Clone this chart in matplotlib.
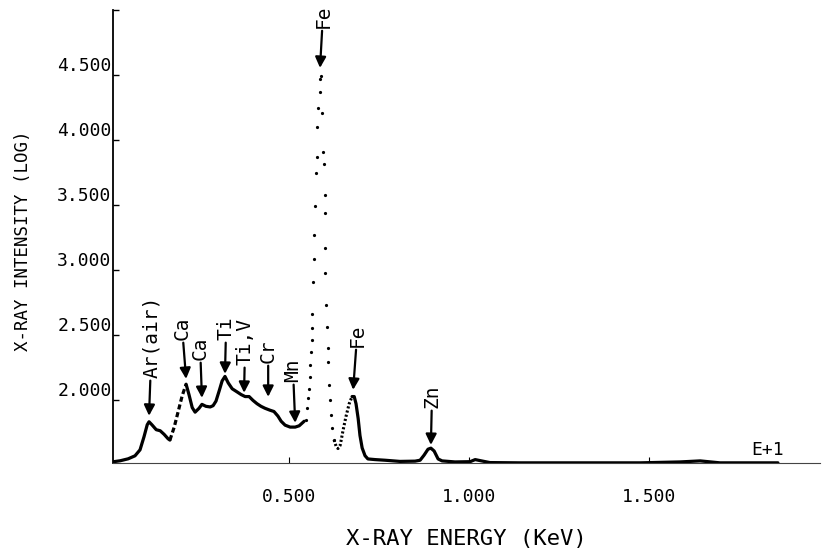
import matplotlib.pyplot as plt

# spectrum (energy in KeV E+1, log intensity)
left_x = [0.011, 0.031, 0.053, 0.072, 0.086, 0.097, 0.106, 0.111, 0.119, 0.131, 0.142, 0.153, 0.164, 0.169]
left_y = [1.523, 1.531, 1.546, 1.569, 1.615, 1.715, 1.808, 1.831, 1.808, 1.770, 1.762, 1.734, 1.700, 1.690]

ca_rise_x = [0.169, 0.181, 0.192, 0.203, 0.214]
ca_rise_y = [1.690, 1.790, 1.910, 2.030, 2.120]

mid_x = [0.214, 0.222, 0.231, 0.239, 0.250, 0.258, 0.269, 0.281, 0.289, 0.297, 0.306, 0.314, 0.322,
         0.331, 0.342, 0.356, 0.367, 0.378, 0.389, 0.400, 0.411, 0.422, 0.433, 0.447, 0.458, 0.469,
         0.478, 0.489, 0.503, 0.517, 0.528, 0.536, 0.542]
mid_y = [2.120, 2.040, 1.940, 1.905, 1.935, 1.965, 1.950, 1.945, 1.955, 1.990, 2.070, 2.145, 2.180,
         2.130, 2.085, 2.060, 2.040, 2.025, 2.025, 1.995, 1.970, 1.950, 1.935, 1.920, 1.910, 1.875,
         1.835, 1.805, 1.790, 1.790, 1.800, 1.820, 1.835]

# main Fe peak is only drawn as separate dots
fe_x = [0.547, 0.550, 0.553, 0.556, 0.558, 0.558, 0.561, 0.564, 0.564, 0.564, 0.567, 0.569, 0.569,
        0.572, 0.575, 0.578, 0.578, 0.581, 0.586, 0.586, 0.589, 0.592, 0.594, 0.597, 0.600, 0.600,
        0.600, 0.600, 0.603, 0.606, 0.608, 0.608, 0.611, 0.614, 0.617, 0.619, 0.625]
fe_y = [1.846, 1.938, 2.015, 2.085, 2.177, 2.269, 2.369, 2.462, 2.554, 2.662, 2.908, 3.085, 3.269,
        3.492, 3.746, 3.869, 4.100, 4.246, 4.369, 4.469, 4.490, 4.208, 3.908, 3.815, 3.577, 3.438,
        3.169, 2.977, 2.731, 2.562, 2.400, 2.292, 2.115, 2.000, 1.885, 1.785, 1.692]

fe2_rise_x = [0.625, 0.631, 0.636, 0.642, 0.650, 0.658, 0.667, 0.675]
fe2_rise_y = [1.692, 1.640, 1.625, 1.650, 1.765, 1.870, 1.970, 2.025]

tail_x = [0.675, 0.681, 0.686, 0.692, 0.697, 0.703, 0.711, 0.719, 0.739, 0.767, 0.808, 0.850, 0.864,
          0.875, 0.886, 0.894, 0.903, 0.914, 0.925, 0.961, 1.003, 1.017, 1.031, 1.058, 1.142, 1.253,
          1.364, 1.475, 1.586, 1.642, 1.664, 1.697, 1.858]
tail_y = [2.025, 2.025, 1.970, 1.855, 1.725, 1.630, 1.570, 1.545, 1.540, 1.535, 1.526, 1.528, 1.535,
          1.574, 1.620, 1.628, 1.606, 1.545, 1.530, 1.522, 1.524, 1.540, 1.532, 1.517, 1.515, 1.515,
          1.515, 1.515, 1.522, 1.530, 1.524, 1.515, 1.515]

peak_labels = ['Ar(air)', 'Ca', 'Ca', 'Ti', 'Ti,V', 'Cr', 'Mn', 'Fe', 'Fe', 'Zn']
tip_x = [0.111, 0.214, 0.258, 0.322, 0.375, 0.442, 0.517, 0.678, 0.586, 0.894]
tip_y = [1.877, 2.161, 2.015, 2.200, 2.054, 2.023, 1.823, 2.077, 4.554, 1.653]
label_x = [0.119, 0.203, 0.253, 0.325, 0.378, 0.442, 0.511, 0.689, 0.594, 0.897]
label_y = [2.169, 2.461, 2.307, 2.461, 2.269, 2.284, 2.138, 2.407, 4.861, 1.938]

y_ticks = [2.0, 2.5, 3.0, 3.5, 4.0, 4.5, 5.0]
x_ticks = [0.5, 1.0, 1.5]

mono = 'DejaVu Sans Mono'

fig = plt.figure(figsize=(8.25, 5.51), dpi=100)
ax = fig.add_axes([0.137, 0.160, 0.857, 0.822])

ax.plot(left_x, left_y, color='black', lw=2.3, solid_capstyle='round')
ax.plot(ca_rise_x, ca_rise_y, color='black', lw=2.3, ls=(0, (1.6, 0.9)))
ax.plot(mid_x, mid_y, color='black', lw=2.3, solid_capstyle='round')
ax.plot(fe_x, fe_y, 'o', color='black', ms=2.3, mew=0)
ax.plot(fe2_rise_x, fe2_rise_y, color='black', lw=2.2, ls=(0, (0.7, 0.7)))
ax.plot(tail_x, tail_y, color='black', lw=2.3, solid_capstyle='round')

for lab, tx, ty, lx, ly in zip(peak_labels, tip_x, tip_y, label_x, label_y):
    ax.annotate(lab, xy=(tx, ty), xytext=(lx, ly), rotation=90, ha='center', va='bottom',
                fontsize=14, family=mono,
                arrowprops=dict(arrowstyle='-|>', color='black', lw=1.6,
                                mutation_scale=16, shrinkA=0, shrinkB=0))

ax.text(1.83, 1.61, 'E+1', fontsize=13, family=mono, ha='center', va='center')

ax.set_xlim(0.011, 1.975)
ax.set_ylim(1.515, 5.0)
ax.set_xticks(x_ticks)
ax.set_xticklabels(['%.3f' % v for v in x_ticks], family=mono, fontsize=13)
ax.set_yticks(y_ticks)
ax.set_yticklabels(['%.3f' % v if v < 5 else '' for v in y_ticks], family=mono, fontsize=13)
for lab in ax.get_yticklabels():
    lab.set_verticalalignment('bottom')
ax.tick_params(axis='y', direction='in', length=4, width=1, pad=1)
ax.tick_params(axis='x', direction='in', length=4, width=0.8, pad=18)

ax.spines['top'].set_visible(False)
ax.spines['right'].set_visible(False)
ax.spines['left'].set_linewidth(1.3)
ax.spines['bottom'].set_linewidth(0.8)
ax.spines['bottom'].set_color('#444444')

ax.set_xlabel('X-RAY ENERGY (KeV)', family=mono, fontsize=16)
ax.xaxis.set_label_coords(0.5, -0.146)
ax.set_ylabel('X-RAY INTENSITY (LOG)', family=mono, fontsize=12.5)
ax.yaxis.set_label_coords(-0.115, 0.49)

plt.savefig('out.png', dpi=100)
